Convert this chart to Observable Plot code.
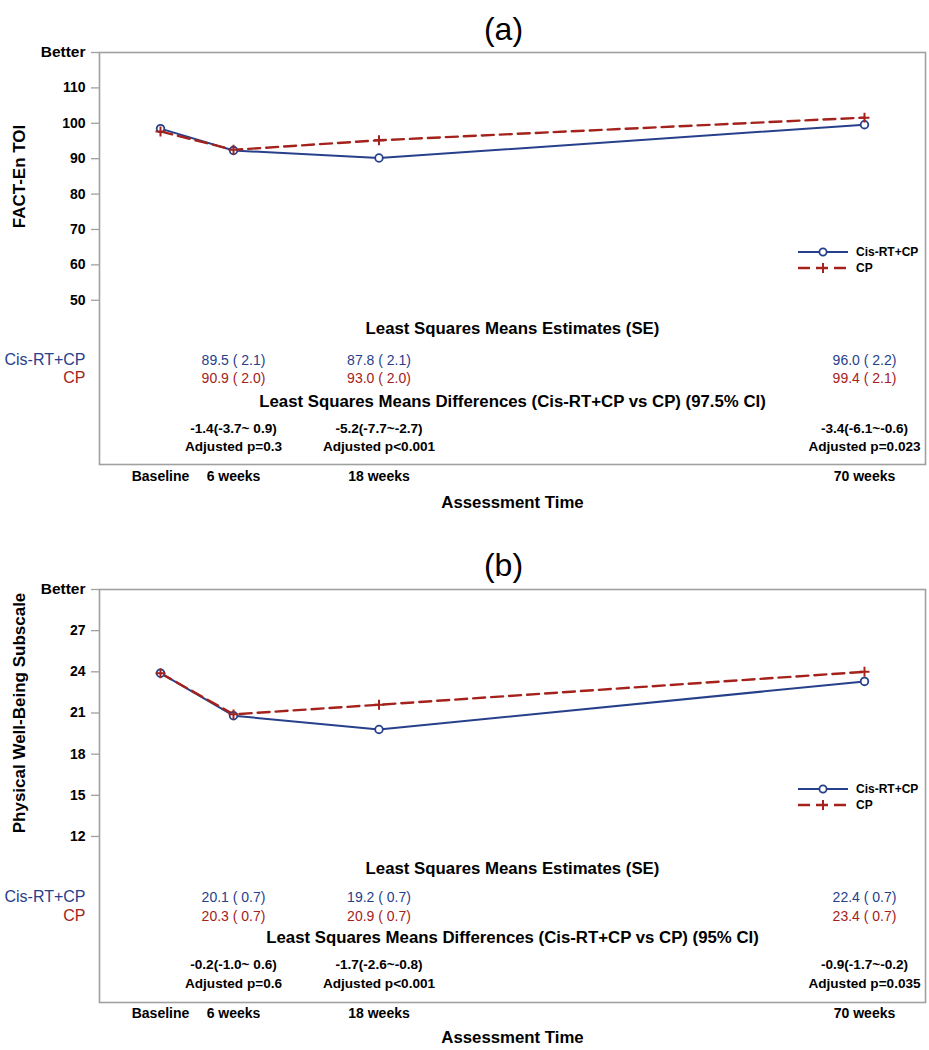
<!DOCTYPE html>
<html>
<head>
<meta charset="utf-8">
<script src="https://cdn.jsdelivr.net/npm/d3@7"></script>
<script src="https://cdn.jsdelivr.net/npm/@observablehq/plot@0.6"></script>
<style>
  html, body { margin: 0; padding: 0; background: #fff; }
  #chart svg { display: block; }
</style>
</head>
<body>
<div id="chart"></div>
<script>
// ---------- data ----------
const weeks = [0, 6, 18, 70];
const timeLabels = ["Baseline", "6 weeks", "18 weeks", "70 weeks"];
const groups = ["Cis-RT+CP", "CP"];
const estWeeks = [6, 18, 70];

// Panel (a): FACT-En TOI
const aCis = [98.5, 92.3, 90.2, 99.6];
const aCP = [97.7, 92.5, 95.2, 101.6];
const aTicks = [50, 60, 70, 80, 90, 100, 110];
const aBetter = 120;
const aEstCis = ["89.5 ( 2.1)", "87.8 ( 2.1)", "96.0 ( 2.2)"];
const aEstCP = ["90.9 ( 2.0)", "93.0 ( 2.0)", "99.4 ( 2.1)"];
const aDiff = ["-1.4(-3.7~ 0.9)", "-5.2(-7.7~-2.7)", "-3.4(-6.1~-0.6)"];
const aP = ["Adjusted p=0.3", "Adjusted p<0.001", "Adjusted p=0.023"];
const aDiffTitle = "Least Squares Means Differences (Cis-RT+CP vs CP) (97.5% CI)";

// Panel (b): Physical Well-Being Subscale
const bCis = [23.9, 20.8, 19.8, 23.3];
const bCP = [23.9, 20.9, 21.6, 24.0];
const bTicks = [12, 15, 18, 21, 24, 27];
const bBetter = 30;
const bEstCis = ["20.1 ( 0.7)", "19.2 ( 0.7)", "22.4 ( 0.7)"];
const bEstCP = ["20.3 ( 0.7)", "20.9 ( 0.7)", "23.4 ( 0.7)"];
const bDiff = ["-0.2(-1.0~ 0.6)", "-1.7(-2.6~-0.8)", "-0.9(-1.7~-0.2)"];
const bP = ["Adjusted p=0.6", "Adjusted p<0.001", "Adjusted p=0.035"];
const bDiffTitle = "Least Squares Means Differences (Cis-RT+CP vs CP) (95% CI)";

const estTitle = "Least Squares Means Estimates (SE)";
const xTitle = "Assessment Time";

// ---------- style ----------
const BLUE = "#27408b";
const RED = "#a4221b";
const GRAY = "#a0a0a0";
const FONT = "'Liberation Sans', Arial, Helvetica, sans-serif";
const xRange = [160, 233, 378.5, 864];
const PLUS_R = 3.3;

function panel(cfg) {
  const cisRows = weeks.map((w, i) => ({week: w, value: cfg.cis[i]}));
  const cpRows = weeks.map((w, i) => ({week: w, value: cfg.cp[i]}));
  const o = cfg.off;
  const svg = Plot.plot({
    width: 929,
    height: cfg.height,
    marginTop: cfg.mt,
    marginBottom: cfg.mb,
    marginLeft: 99,
    marginRight: 4,
    style: {fontFamily: FONT, background: "#fff", color: "#000", overflow: "visible"},
    x: {type: "linear", domain: weeks, range: xRange, axis: null},
    y: {domain: cfg.yDomain, axis: null},
    marks: [
      Plot.frame({stroke: GRAY, strokeWidth: 1.6}),
      Plot.axisY(cfg.ticks, {tickSize: 8, tickPadding: 6, stroke: GRAY, strokeWidth: 1.3, fontSize: 14, fontWeight: "bold", fill: "#000", label: null}),
      Plot.axisY([cfg.better], {tickSize: 8, tickPadding: 6, stroke: GRAY, strokeWidth: 1.3, fontSize: 15.5, fontWeight: "bold", fill: "#000", label: null, tickFormat: () => "Better"}),
      // y axis title
      Plot.text([cfg.yLabel], {frameAnchor: "left", textAnchor: "middle", rotate: -90, dx: -80, dy: cfg.yLabelDy, fontSize: 17, fontWeight: "bold", fill: "#000"}),
      // panel title
      Plot.text([cfg.title], {frameAnchor: "top", dx: -9, dy: cfg.titleDy, fontSize: 32, fill: "#000"}),
      // series
      Plot.line(cisRows, {x: "week", y: "value", stroke: BLUE, strokeWidth: 2}),
      Plot.line(cpRows, {x: "week", y: "value", stroke: RED, strokeWidth: 2.4, strokeDasharray: "12,6"}),
      Plot.dot(cisRows, {x: "week", y: "value", r: 3.8, stroke: BLUE, strokeWidth: 1.8, fill: "#fff"}),
      Plot.dot(cpRows, {x: "week", y: "value", symbol: "plus", r: PLUS_R, stroke: RED, strokeWidth: 2}),
      // table
      Plot.text([estTitle], {frameAnchor: "bottom", dy: o[0], fontSize: 16.8, fontWeight: "bold", fill: "#000"}),
      Plot.text([groups[0]], {frameAnchor: "bottom-left", dx: -14, dy: o[1], textAnchor: "end", fontSize: 16, fill: BLUE}),
      Plot.text([groups[1]], {frameAnchor: "bottom-left", dx: -14, dy: o[2], textAnchor: "end", fontSize: 16, fill: RED}),
      Plot.text(cfg.estCis, {x: estWeeks, frameAnchor: "bottom", dy: o[1], fontSize: 14, fill: BLUE}),
      Plot.text(cfg.estCP, {x: estWeeks, frameAnchor: "bottom", dy: o[2], fontSize: 14, fill: RED}),
      Plot.text([cfg.diffTitle], {frameAnchor: "bottom", dy: o[3], fontSize: 16.8, fontWeight: "bold", fill: "#000"}),
      Plot.text(cfg.diff, {x: estWeeks, frameAnchor: "bottom", dy: o[4], fontSize: 13.6, fontWeight: "bold", fill: "#000"}),
      Plot.text(cfg.p, {x: estWeeks, frameAnchor: "bottom", dy: o[5], fontSize: 13.6, fontWeight: "bold", fill: "#000"}),
      // x axis
      Plot.text(timeLabels, {x: weeks, frameAnchor: "bottom", dy: o[6], fontSize: 14, fontWeight: "bold", fill: "#000"}),
      Plot.text([xTitle], {frameAnchor: "bottom", dy: o[7], fontSize: 16.8, fontWeight: "bold", fill: "#000"})
    ]
  });
  // legend inside the frame (top-right area)
  const g = d3.select(svg).append("g").attr("transform", `translate(798, ${cfg.mt + 200})`);
  const items = [
    {label: groups[0], color: BLUE, dash: null, sym: "circle", w: 2},
    {label: groups[1], color: RED, dash: "12,6", sym: "plus", w: 2.4}
  ];
  items.forEach((it, i) => {
    const row = g.append("g").attr("transform", `translate(0, ${i * 16})`);
    row.append("line").attr("x1", 0).attr("x2", 50).attr("y1", 0).attr("y2", 0)
      .attr("stroke", it.color).attr("stroke-width", it.w)
      .attr("stroke-dasharray", it.dash);
    if (it.sym === "circle") {
      row.append("circle").attr("cx", 25).attr("cy", 0).attr("r", 3.6)
        .attr("fill", "#fff").attr("stroke", it.color).attr("stroke-width", 1.8);
    } else {
      row.append("path").attr("transform", "translate(25,0)")
        .attr("d", d3.symbol(d3.symbolPlus, Math.PI * PLUS_R * PLUS_R)())
        .attr("fill", "none").attr("stroke", it.color).attr("stroke-width", 2);
    }
    row.append("text").attr("x", 58).attr("y", 0).attr("dy", "0.35em")
      .attr("text-anchor", "start")
      .attr("font-size", 12).attr("font-weight", "bold").attr("fill", "#000")
      .attr("font-family", FONT).text(it.label);
  });
  return svg;
}

const chart = document.getElementById("chart");
chart.appendChild(panel({
  title: "(a)", yLabel: "FACT-En TOI",
  height: 525, mt: 52, mb: 61, yDomain: [3.6, 120],
  ticks: aTicks, better: aBetter,
  cis: aCis, cp: aCP,
  estCis: aEstCis, estCP: aEstCP, diff: aDiff, p: aP, diffTitle: aDiffTitle,
  titleDy: -35, yLabelDy: -82,
  off: [-131, -100, -82, -58, -32, -14, 16, 43]
}));
chart.appendChild(panel({
  title: "(b)", yLabel: "Physical Well-Being Subscale",
  height: 525, mt: 64, mb: 48, yDomain: [-0.1, 30],
  ticks: bTicks, better: bBetter,
  cis: bCis, cp: bCP,
  estCis: bEstCis, estCP: bEstCP, diff: bDiff, p: bP, diffTitle: bDiffTitle,
  titleDy: -36, yLabelDy: -83,
  off: [-129, -101, -82, -60, -34, -15, 15, 40]
}));
</script>
</body>
</html>
